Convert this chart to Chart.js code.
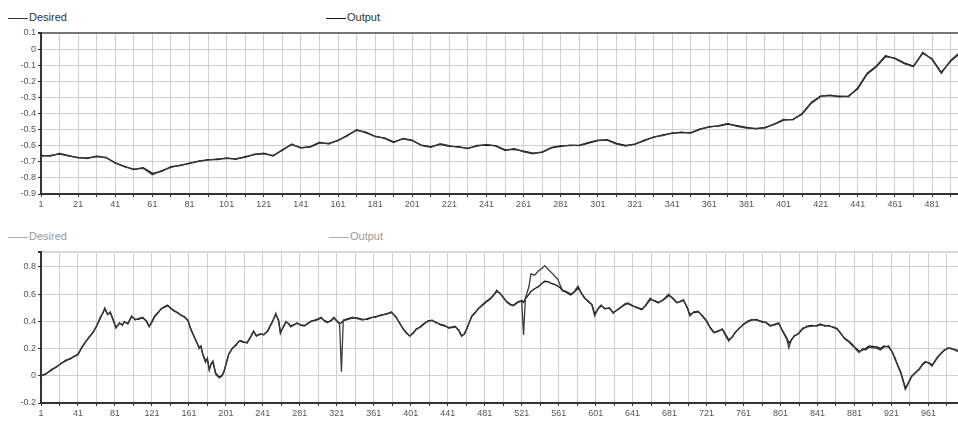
<!DOCTYPE html>
<html>
<head>
<meta charset="utf-8">
<script src="https://cdn.jsdelivr.net/npm/chart.js@4/dist/chart.umd.min.js"></script>
<style>
    body { margin: 0; background: #fff; width: 958px; height: 426px; overflow: hidden; position: relative; font-family: "Liberation Sans", Arial, sans-serif; }
    .box { position: absolute; left: 0; width: 958px; }
    .leg { position: absolute; font-size: 11px; line-height: 12px; white-space: nowrap; }
    .leg i { display: inline-block; width: 20px; height: 0; border-top: 1px solid; vertical-align: middle; margin-right: 1px; }
</style>
</head>
<body>
<div class="leg" style="left:8px;top:11px;color:#333"><i style="border-color:#333"></i>Desired</div>
<div class="leg" style="left:326px;top:11px;color:#333"><i style="border-color:#111"></i>Output</div>
<div class="box" style="top:0;height:214px"><canvas id="topChart"></canvas></div>

<div class="leg" style="left:8px;top:230px;color:#999"><i style="border-color:#aaa"></i>Desired</div>
<div class="leg" style="left:329px;top:230px;color:#999"><i style="border-color:#aaa"></i>Output</div>
<div class="box" style="top:220px;height:206px"><canvas id="bottomChart"></canvas></div>

<script>
// Top chart: one value every 5 samples, starting at sample 1
const topStep = 5;
const topDesired = [
    -0.665, -0.660, -0.652, -0.665, -0.672, -0.680, -0.664, -0.675, -0.705, -0.732,
    -0.745, -0.740, -0.780, -0.755, -0.735, -0.720, -0.712, -0.695, -0.690, -0.682,
    -0.680, -0.680, -0.672, -0.652, -0.650, -0.660, -0.630, -0.590, -0.615, -0.605,
    -0.578, -0.590, -0.565, -0.540, -0.500, -0.520, -0.540, -0.555, -0.580, -0.555,
    -0.565, -0.600, -0.610, -0.588, -0.600, -0.610, -0.615, -0.602, -0.592, -0.603,
    -0.630, -0.618, -0.638, -0.650, -0.638, -0.610, -0.600, -0.600, -0.596, -0.580,
    -0.565, -0.566, -0.590, -0.602, -0.588, -0.570, -0.545, -0.537, -0.520, -0.520,
    -0.518, -0.495, -0.485, -0.475, -0.462, -0.480, -0.490, -0.492, -0.490, -0.465,
    -0.437, -0.440, -0.400, -0.330, -0.290, -0.290, -0.292, -0.296, -0.240, -0.150,
    -0.105, -0.040, -0.060, -0.090, -0.110, -0.020, -0.065, -0.150, -0.070, -0.020
];
const topOutput = [
    -0.660, -0.665, -0.648, -0.662, -0.676, -0.675, -0.668, -0.672, -0.708, -0.728,
    -0.748, -0.736, -0.772, -0.760, -0.730, -0.724, -0.708, -0.698, -0.686, -0.686,
    -0.676, -0.684, -0.668, -0.656, -0.646, -0.664, -0.626, -0.594, -0.612, -0.608,
    -0.582, -0.586, -0.568, -0.536, -0.504, -0.516, -0.544, -0.552, -0.576, -0.558,
    -0.568, -0.596, -0.606, -0.592, -0.604, -0.606, -0.618, -0.598, -0.596, -0.600,
    -0.626, -0.622, -0.634, -0.646, -0.642, -0.614, -0.604, -0.596, -0.600, -0.584,
    -0.568, -0.562, -0.586, -0.598, -0.592, -0.566, -0.548, -0.533, -0.524, -0.516,
    -0.522, -0.498, -0.481, -0.478, -0.466, -0.476, -0.486, -0.496, -0.486, -0.468,
    -0.441, -0.436, -0.404, -0.336, -0.294, -0.286, -0.296, -0.292, -0.246, -0.156,
    -0.110, -0.046, -0.056, -0.086, -0.106, -0.026, -0.060, -0.144, -0.076, -0.026
];
const topXLabels = [1, 21, 41, 61, 81, 101, 121, 141, 161, 181, 201, 221, 241, 261, 281, 301, 321, 341, 361, 381, 401, 421, 441, 461, 481];
const topYLabels = [-0.9, -0.8, -0.7, -0.6, -0.5, -0.4, -0.3, -0.2, -0.1, 0, 0.1];

// Bottom chart: sample index and values
const botIdx = [
    1, 6, 12, 17, 23, 28, 33, 37, 41, 45,
    49, 53, 57, 61, 65, 68, 70, 73, 76, 79,
    82, 86, 89, 91, 95, 99, 103, 106, 111, 115,
    118, 121, 124, 128, 131, 135, 138, 142, 145, 149,
    152, 156, 160, 163, 167, 170, 172, 174, 176, 179,
    181, 183, 185, 187, 190, 194, 197, 199, 202, 204,
    208, 212, 215, 217, 220, 224, 227, 231, 234, 238,
    242, 246, 249, 251, 255, 258, 260, 263, 266, 269,
    271, 274, 278, 282, 286, 290, 294, 297, 301, 304,
    308, 311, 315, 318, 321, 324, 326, 328, 333, 338,
    343, 349, 354, 358, 363, 369, 374, 380, 385, 389,
    392, 396, 400, 404, 407, 411, 416, 420, 424, 428,
    433, 438, 442, 446, 449, 453, 456, 459, 462, 467,
    471, 474, 478, 483, 487, 490, 494, 498, 502, 505,
    509, 512, 516, 519, 521, 523, 525, 529, 531, 535,
    539, 543, 546, 550, 553, 557, 560, 563, 565, 569,
    574, 578, 582, 586, 589, 593, 597, 600, 604, 607,
    611, 616, 620, 625, 629, 633, 636, 640, 645, 651,
    655, 660, 664, 669, 674, 680, 684, 689, 693, 696,
    700, 703, 707, 712, 716, 721, 725, 729, 733, 738,
    742, 745, 749, 752, 756, 761, 765, 770, 775, 781,
    785, 790, 795, 799, 803, 808, 810, 813, 816, 820,
    825, 830, 835, 840, 844, 849, 853, 858, 862, 866,
    870, 874, 879, 883, 886, 890, 893, 897, 902, 906,
    909, 913, 918, 922, 925, 928, 931, 934, 936, 939,
    943, 947, 951, 955, 958, 962, 965, 968, 971, 975,
    978, 982, 985, 989, 992, 996
];
const botDesired = [
    0.00, 0.01, 0.045, 0.06, 0.094, 0.11, 0.13, 0.14, 0.16, 0.21,
    0.25, 0.28, 0.32, 0.36, 0.43, 0.46, 0.50, 0.45, 0.47, 0.41,
    0.35, 0.39, 0.37, 0.40, 0.38, 0.44, 0.41, 0.42, 0.43, 0.40,
    0.36, 0.40, 0.44, 0.47, 0.49, 0.51, 0.52, 0.49, 0.48, 0.46,
    0.45, 0.43, 0.41, 0.34, 0.28, 0.24, 0.20, 0.22, 0.155, 0.10,
    0.13, 0.04, 0.09, 0.11, 0.01, -0.016, 0.00, 0.03, 0.11, 0.16,
    0.20, 0.23, 0.25, 0.26, 0.25, 0.24, 0.28, 0.33, 0.29, 0.31,
    0.30, 0.33, 0.37, 0.39, 0.46, 0.40, 0.31, 0.36, 0.40, 0.38,
    0.36, 0.37, 0.39, 0.37, 0.365, 0.39, 0.40, 0.41, 0.42, 0.43,
    0.40, 0.39, 0.41, 0.43, 0.40, 0.38, 0.03, 0.41, 0.42, 0.43,
    0.42, 0.41, 0.42, 0.43, 0.43, 0.45, 0.45, 0.47, 0.43, 0.39,
    0.35, 0.32, 0.29, 0.32, 0.34, 0.36, 0.39, 0.40, 0.41, 0.39,
    0.38, 0.37, 0.35, 0.36, 0.365, 0.33, 0.29, 0.31, 0.35, 0.44,
    0.47, 0.49, 0.52, 0.55, 0.57, 0.585, 0.63, 0.60, 0.57, 0.54,
    0.52, 0.52, 0.54, 0.55, 0.55, 0.30, 0.57, 0.66, 0.75, 0.74,
    0.77, 0.79, 0.81, 0.78, 0.76, 0.73, 0.71, 0.66, 0.63, 0.62,
    0.60, 0.62, 0.66, 0.60, 0.57, 0.55, 0.52, 0.44, 0.50, 0.52,
    0.49, 0.50, 0.46, 0.49, 0.51, 0.53, 0.535, 0.52, 0.50, 0.485,
    0.52, 0.57, 0.55, 0.535, 0.56, 0.60, 0.57, 0.535, 0.55, 0.56,
    0.50, 0.44, 0.47, 0.475, 0.44, 0.40, 0.35, 0.315, 0.33, 0.34,
    0.29, 0.255, 0.29, 0.315, 0.35, 0.375, 0.40, 0.415, 0.41, 0.40,
    0.39, 0.365, 0.38, 0.39, 0.33, 0.265, 0.205, 0.27, 0.29, 0.31,
    0.35, 0.36, 0.365, 0.37, 0.375, 0.37, 0.365, 0.36, 0.35, 0.31,
    0.28, 0.26, 0.23, 0.19, 0.17, 0.20, 0.19, 0.21, 0.205, 0.20,
    0.19, 0.21, 0.22, 0.17, 0.13, 0.07, 0.02, -0.05, -0.10, -0.06,
    -0.005, 0.02, 0.045, 0.09, 0.105, 0.09, 0.07, 0.11, 0.14, 0.17,
    0.19, 0.20, 0.205, 0.19, 0.18, 0.20
];
const botOutput = [
    0.00, 0.015, 0.04, 0.065, 0.09, 0.115, 0.125, 0.145, 0.155, 0.205,
    0.245, 0.285, 0.315, 0.365, 0.42, 0.465, 0.49, 0.455, 0.46, 0.415,
    0.355, 0.385, 0.375, 0.395, 0.385, 0.435, 0.415, 0.415, 0.425, 0.405,
    0.365, 0.395, 0.435, 0.465, 0.495, 0.505, 0.515, 0.495, 0.475, 0.465,
    0.445, 0.435, 0.405, 0.345, 0.285, 0.235, 0.21, 0.215, 0.16, 0.11,
    0.12, 0.05, 0.085, 0.10, 0.02, -0.01, 0.005, 0.035, 0.105, 0.155,
    0.205, 0.225, 0.255, 0.255, 0.245, 0.245, 0.275, 0.325, 0.295, 0.305,
    0.305, 0.325, 0.365, 0.395, 0.45, 0.41, 0.32, 0.355, 0.395, 0.385,
    0.365, 0.375, 0.385, 0.375, 0.37, 0.385, 0.405, 0.405, 0.415, 0.425,
    0.405, 0.395, 0.405, 0.425, 0.405, 0.385, 0.39, 0.405, 0.415, 0.425,
    0.425, 0.415, 0.415, 0.425, 0.435, 0.445, 0.455, 0.465, 0.435, 0.385,
    0.355, 0.315, 0.295, 0.315, 0.345, 0.355, 0.385, 0.405, 0.405, 0.395,
    0.375, 0.365, 0.355, 0.355, 0.36, 0.335, 0.295, 0.305, 0.355, 0.435,
    0.465, 0.495, 0.515, 0.545, 0.565, 0.59, 0.62, 0.605, 0.565, 0.545,
    0.525, 0.515, 0.535, 0.545, 0.555, 0.54, 0.565, 0.60, 0.62, 0.64,
    0.655, 0.68, 0.695, 0.69, 0.68, 0.67, 0.66, 0.645, 0.625, 0.615,
    0.595, 0.615, 0.645, 0.605, 0.575, 0.545, 0.525, 0.455, 0.495, 0.515,
    0.495, 0.495, 0.465, 0.485, 0.505, 0.525, 0.53, 0.515, 0.505, 0.49,
    0.515, 0.56, 0.555, 0.54, 0.555, 0.59, 0.575, 0.54, 0.545, 0.555,
    0.505, 0.45, 0.465, 0.47, 0.445, 0.405, 0.355, 0.32, 0.325, 0.345,
    0.30, 0.265, 0.285, 0.32, 0.345, 0.38, 0.395, 0.41, 0.415, 0.395,
    0.395, 0.37, 0.375, 0.385, 0.335, 0.275, 0.24, 0.265, 0.295, 0.305,
    0.345, 0.365, 0.37, 0.365, 0.38, 0.365, 0.37, 0.355, 0.345, 0.315,
    0.275, 0.255, 0.22, 0.20, 0.18, 0.19, 0.20, 0.22, 0.215, 0.21,
    0.20, 0.22, 0.21, 0.175, 0.12, 0.075, 0.03, -0.04, -0.09, -0.055,
    0.00, 0.025, 0.05, 0.085, 0.10, 0.095, 0.08, 0.105, 0.135, 0.165,
    0.185, 0.205, 0.20, 0.195, 0.185, 0.195
];
const botXLabels = [1, 41, 81, 121, 161, 201, 241, 281, 321, 361, 401, 441, 481, 521, 561, 601, 641, 681, 721, 761, 801, 841, 881, 921, 961];
const botYLabels = [-0.2, 0, 0.2, 0.4, 0.6, 0.8];

function stepPoints(values, step) {
    return values.map((v, i) => ({ x: 1 + i * step, y: v }));
}
function idxPoints(idx, values) {
    return idx.map((x, i) => ({ x: x, y: values[i] }));
}
function fmt(v) {
    return Math.abs(v) < 1e-9 ? '0' : String(+v.toFixed(1));
}

function buildChart(id, cfg) {
    // gridlines every half label interval on x
    const half = (cfg.xLabels[1] - cfg.xLabels[0]) / 2;
    const xGrid = [];
    cfg.xLabels.forEach(v => { xGrid.push(v); if (v + half < cfg.xMax) xGrid.push(v + half); });
    const yGrid = cfg.yLabels.slice();
    if (yGrid.indexOf(cfg.yMax) < 0) yGrid.push(cfg.yMax);

    return new Chart(document.getElementById(id).getContext('2d'), {
        type: 'line',
        data: {
            datasets: [{
                label: 'Desired',
                data: cfg.desired,
                borderColor: '#3a3a3a',
                borderWidth: 1.3,
                pointRadius: 0,
                tension: 0
            }, {
                label: 'Output',
                data: cfg.output,
                borderColor: '#111',
                borderWidth: 1.3,
                pointRadius: 0,
                tension: 0
            }]
        },
        options: {
            responsive: true,
            maintainAspectRatio: false,
            animation: false,
            layout: { padding: { top: cfg.padTop, left: 0, right: 0, bottom: 0 } },
            plugins: { legend: { display: false }, tooltip: { enabled: false } },
            scales: {
                x: {
                    type: 'linear',
                    min: 1,
                    max: cfg.xMax,
                    afterBuildTicks: s => { s.ticks = xGrid.map(v => ({ value: v })); },
                    afterFit: s => { s.height = cfg.xAxisH; },
                    ticks: {
                        autoSkip: false,
                        maxRotation: 0,
                        color: '#555',
                        font: { size: 9 },
                        padding: 2,
                        callback: v => cfg.xLabels.indexOf(v) >= 0 ? String(v) : ''
                    },
                    grid: { color: '#cfcfcf', lineWidth: 1, tickLength: 3, tickColor: '#333' },
                    border: { color: '#333', width: 2 }
                },
                y: {
                    type: 'linear',
                    min: cfg.yMin,
                    max: cfg.yMax,
                    afterBuildTicks: s => { s.ticks = yGrid.map(v => ({ value: v })); },
                    afterFit: s => { s.width = 41; },
                    ticks: {
                        color: '#555',
                        font: { size: 9 },
                        padding: 2,
                        callback: v => cfg.yLabels.indexOf(v) >= 0 ? fmt(v) : ''
                    },
                    grid: {
                        color: c => (c.tick && c.tick.value === cfg.yMax) ? cfg.topLine : '#cfcfcf',
                        lineWidth: c => (c.tick && c.tick.value === cfg.yMax) ? 2 : 1,
                        tickLength: 3,
                        tickColor: '#333'
                    },
                    border: { color: '#333', width: 2 }
                }
            }
        }
    });
}

buildChart('topChart', {
    desired: stepPoints(topDesired, topStep),
    output: stepPoints(topOutput, topStep),
    xLabels: topXLabels,
    yLabels: topYLabels,
    xMax: 495,
    yMin: -0.9,
    yMax: 0.1,
    padTop: 33,
    xAxisH: 20,
    topLine: '#777'
});

buildChart('bottomChart', {
    desired: idxPoints(botIdx, botDesired),
    output: idxPoints(botIdx, botOutput),
    xLabels: botXLabels,
    yLabels: botYLabels,
    xMax: 993,
    yMin: -0.2,
    yMax: 0.91,
    padTop: 32,
    xAxisH: 23,
    topLine: '#d8d8d8'
});
</script>
</body>
</html>
